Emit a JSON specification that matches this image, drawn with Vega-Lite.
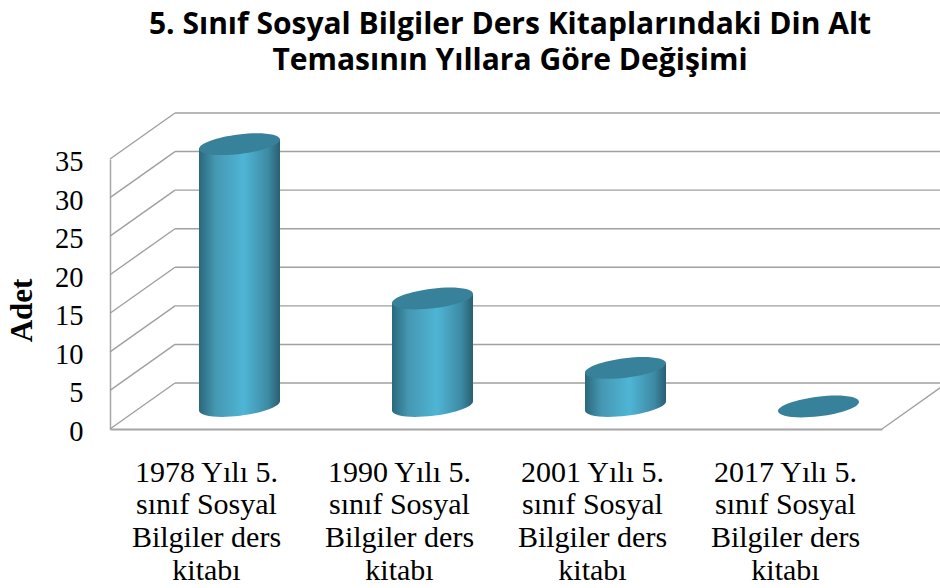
{
"$schema":"https://vega.github.io/schema/vega-lite/v6.json",
"autosize":{"type":"none"},
"width":772,"height":270,
"padding":{"left":110,"top":159,"right":58,"bottom":159},
"background":"white",
"view":{"stroke":null},
"config":{"axis":{"labelOverlap":false}},
"title":{"text":["5. Sınıf Sosyal Bilgiler Ders Kitaplarındaki Din Alt","Temasının Yıllara Göre Değişimi"],"font":"Open Sans","fontWeight":"bold","fontSize":30,"lineHeight":36,"color":"#000000","anchor":"middle","frame":"group","dx":14,"offset":34},
"datasets":{
"books":[
{"kitap":"1978 Yılı 5. sınıf Sosyal Bilgiler ders kitabı","adet":34},
{"kitap":"1990 Yılı 5. sınıf Sosyal Bilgiler ders kitabı","adet":14},
{"kitap":"2001 Yılı 5. sınıf Sosyal Bilgiler ders kitabı","adet":5},
{"kitap":"2017 Yılı 5. sınıf Sosyal Bilgiler ders kitabı","adet":0}
],
"ticks":[{"v":0},{"v":5},{"v":10},{"v":15},{"v":20},{"v":25},{"v":30},{"v":35}]
},
"encoding":{
"x":{"field":"kitap","type":"nominal","sort":null,"scale":{"type":"band","paddingInner":0,"paddingOuter":0,"domain":["1978 Yılı 5. sınıf Sosyal Bilgiler ders kitabı","1990 Yılı 5. sınıf Sosyal Bilgiler ders kitabı","2001 Yılı 5. sınıf Sosyal Bilgiler ders kitabı","2017 Yılı 5. sınıf Sosyal Bilgiler ders kitabı"]},
"axis":{"title":null,"labelAngle":0,"labelFont":"Liberation Serif","labelFontSize":30,"labelColor":"#000000","labelLineHeight":32.7,"labelPadding":43,"labelAlign":"center","labelBaseline":"middle","labelOverlap":false,"labelLimit":300,"ticks":false,"domainColor":"#a6a6a6","domainWidth":2,"grid":false,"zindex":0,
"labelExpr":"[slice(datum.label,0,12),slice(datum.label,13,25),slice(datum.label,26,39),slice(datum.label,40)]"}},
"y":{"type":"quantitative","scale":{"domain":[0,35],"nice":false,"clamp":false},"title":"Adet",
"axis":{"values":[0,5,10,15,20,25,30,35],"labelFont":"Liberation Serif","labelFontSize":28.5,"labelColor":"#000000","labelPadding":27,"labelOffset":2.5,"labelOverlap":false,"labelFlush":false,"ticks":false,"domainColor":"#a6a6a6","domainWidth":1.5,"grid":false,
"titleFont":"Liberation Serif","titleFontSize":31,"titleFontWeight":"bold","titleColor":"#000000","titleX":-88,"titleY":151,"titleAngle":270,"titleAlign":"center","titleBaseline":"middle"}}
},
"layer":[
{"data":{"name":"ticks"},
"mark":{"type":"point","filled":false,"fill":null,"shape":"M65,-46 L837,-46 M0,0 L65,-46","size":4,"stroke":"#a0a0a0","strokeWidth":1.4,"opacity":1,"xOffset":-96.5,"clip":false},
"encoding":{"x":{"datum":"1978 Yılı 5. sınıf Sosyal Bilgiler ders kitabı"},
"y":{"field":"v","type":"quantitative"}}},
{"data":{"values":[{"v":0}]},
"mark":{"type":"point","filled":false,"fill":null,"shape":"M0,0 L65,-46","size":4,"stroke":"#a0a0a0","strokeWidth":1.4,"opacity":1,"xOffset":96.5},
"encoding":{"x":{"datum":"2017 Yılı 5. sınıf Sosyal Bilgiler ders kitabı"},"y":{"field":"v","type":"quantitative"}}},
{"data":{"name":"books"},"transform":[{"filter":"datum.adet>0"}],
"mark":{"type":"bar","width":81,"xOffset":33,"yOffset":-10.5,"y2Offset":-34.5,
"fill":{"x1":0,"y1":0,"x2":1,"y2":0,"gradient":"linear","stops":[{"offset":0,"color":"#2a687c"},{"offset":0.2,"color":"#4597b2"},{"offset":0.55,"color":"#4fb5d5"},{"offset":0.85,"color":"#3e8ba5"},{"offset":1,"color":"#2a5f72"}]}},
"encoding":{"y":{"field":"adet","type":"quantitative"},"y2":{"datum":0}}},
{"data":{"name":"books"},"transform":[{"filter":"datum.adet>0"}],
"mark":{"type":"point","filled":true,"opacity":1,"size":6561,"xOffset":33,"yOffset":-23,"shape":"M-1,0.12 A1.003,0.24,-7,0,0,1,-0.12 L1,-0.4 L-1,-0.4 Z",
"fill":{"x1":0,"y1":0,"x2":1,"y2":0,"gradient":"linear","stops":[{"offset":0,"color":"#2a687c"},{"offset":0.2,"color":"#4597b2"},{"offset":0.55,"color":"#4fb5d5"},{"offset":0.85,"color":"#3e8ba5"},{"offset":1,"color":"#2a5f72"}]}},
"encoding":{"y":{"datum":0}}},
{"data":{"name":"books"},"transform":[{"filter":"datum.adet>0"}],
"mark":{"type":"point","filled":true,"opacity":1,"size":6561,"xOffset":33,"yOffset":-22.5,"shape":"M-1,0.12 L1,-0.12 L1,0.4 L-1,0.4 Z",
"fill":{"x1":0,"y1":0,"x2":1,"y2":0,"gradient":"linear","stops":[{"offset":0,"color":"#2a687c"},{"offset":0.2,"color":"#4597b2"},{"offset":0.55,"color":"#4fb5d5"},{"offset":0.85,"color":"#3e8ba5"},{"offset":1,"color":"#2a5f72"}]}},
"encoding":{"y":{"field":"adet","type":"quantitative"}}},
{"data":{"name":"books"},
"mark":{"type":"point","filled":true,"opacity":1,"size":6561,"xOffset":33,"yOffset":-22.5,"color":"#37829a","shape":"M-1,0.12 A1.003,0.24,-7,1,1,1,-0.12 A1.003,0.24,-7,1,1,-1,0.12 Z"},
"encoding":{"y":{"field":"adet","type":"quantitative"}}}
]
}
